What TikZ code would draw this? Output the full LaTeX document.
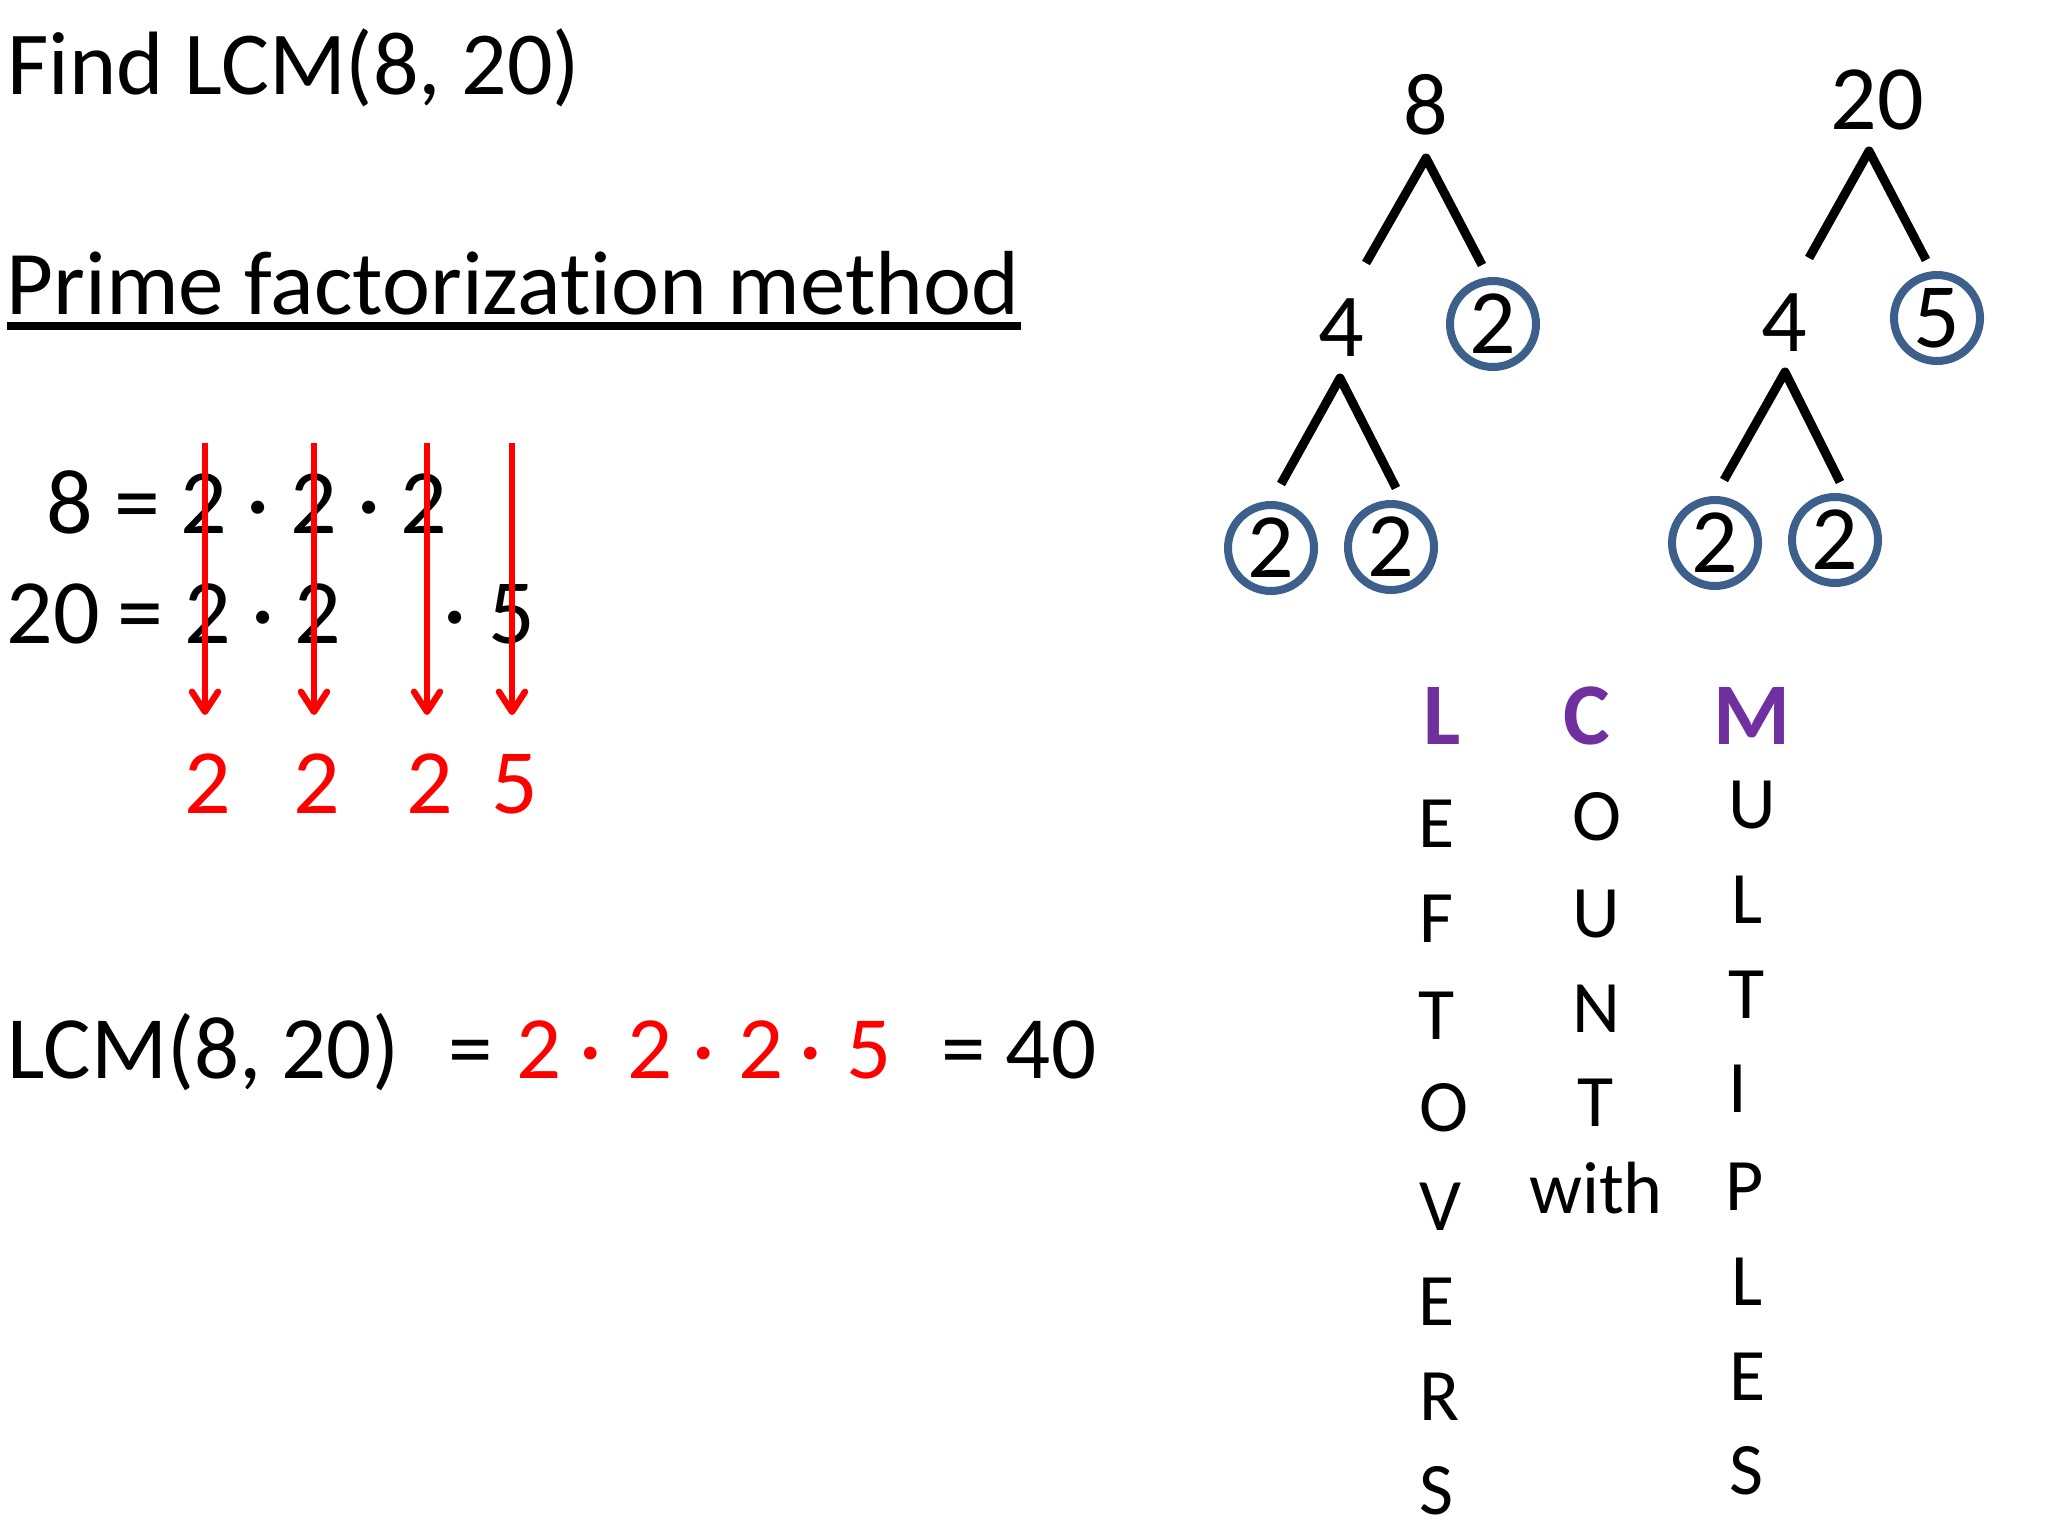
\documentclass[tikz,border=0pt]{standalone}
\usepackage{fontspec}
\setmainfont{Carlito}[Ligatures=NoCommon]
\usetikzlibrary{arrows.meta}
\definecolor{circblue}{RGB}{60,95,140}
\definecolor{lcmpurple}{RGB}{112,48,160}
\definecolor{pured}{RGB}{255,0,0}
\begin{document}
\begin{tikzpicture}[x=0.5pt,y=-0.5pt,
  txt/.style={inner sep=0pt, anchor=base},
  txtw/.style={inner sep=0pt, anchor=base west},
  fbig/.style={font=\fontsize{46}{50}\selectfont},
  ftitle/.style={font=\fontsize{45}{50}\selectfont},
  fmid/.style={font=\fontsize{44.5}{50}\selectfont},
  fmeth/.style={font=\fontsize{45.5}{50}\selectfont},
  flet/.style={font=\fontsize{37}{40}\selectfont},
  fhead/.style={font=\fontsize{44}{50}\selectfont\bfseries, text=lcmpurple},
  redtxt/.style={text=pured},
  circ/.style={circle, draw=circblue, line width=4pt, minimum size=43pt, inner sep=0pt, font=\fontsize{46}{50}\selectfont},
  branch/.style={line width=4.5pt, black, line join=round},
  downarrow/.style={draw=pured, line width=3.2pt, -{Straight Barb[length=10pt,width=13pt,round]}},
]
\useasboundingbox (0,0) rectangle (2048,1536);
\fill[white] (0,0) rectangle (2048,1536);

% titles
\node[txtw, ftitle] (title) at (7,95) {Find LCM(8, 20)};
\node[txtw, fmeth] (method) at (6,314) {Prime factorization method};
\coordinate (ulA) at (7,326);
\coordinate (ulB) at (1021,326);
\draw[line width=4pt] (ulA) -- (ulB);

% row 1
\node[txt, fbig] (r1a) at (70,533) {8};
\node[txt, fbig] (r1b) at (137,533) {=};
\node[txt, fbig] (r1c) at (204,533) {2};
\node[txt, fbig] (r1d) at (258,533) {·};
\node[txt, fbig] (r1e) at (314,533) {2};
\node[txt, fbig] (r1f) at (369,533) {·};
\node[txt, fbig] (r1g) at (424,533) {2};
% row 2
\node[txt, fbig] (r2a) at (53.5,643) {20};
\node[txt, fbig] (r2b) at (140,643) {=};
\node[txt, fbig] (r2c) at (208,643) {2};
\node[txt, fbig] (r2d) at (263,643) {·};
\node[txt, fbig] (r2e) at (318,643) {2};
\node[txt, fbig] (r2f) at (455,643) {·};
\node[txt, fbig] (r2g) at (512,643) {5};

% arrows
\coordinate (a1s) at (205,443); \coordinate (a1e) at (205,715);
\coordinate (a2s) at (314,443); \coordinate (a2e) at (314,715);
\coordinate (a3s) at (427,443); \coordinate (a3e) at (427,715);
\coordinate (a4s) at (512,443); \coordinate (a4e) at (512,715);
\draw[downarrow] (a1s) -- (a1e);
\draw[downarrow] (a2s) -- (a2e);
\draw[downarrow] (a3s) -- (a3e);
\draw[downarrow] (a4s) -- (a4e);

% red results
\node[txt, fbig, redtxt] (res1) at (208,813) {2};
\node[txt, fbig, redtxt] (res2) at (317,813) {2};
\node[txt, fbig, redtxt] (res3) at (430,813) {2};
\node[txt, fbig, redtxt] (res4) at (515,813) {5};

% LCM line
\node[txtw, fmid] (lcm) at (7,1078) {LCM(8, 20)};
\node[txt, fmid] (le1) at (471,1078) {=};
\node[txt, fmid, redtxt] (l1) at (539,1078) {2};
\node[txt, fmid, redtxt] (d1) at (591,1078) {·};
\node[txt, fmid, redtxt] (l2) at (650,1078) {2};
\node[txt, fmid, redtxt] (d2) at (704,1078) {·};
\node[txt, fmid, redtxt] (l3) at (761,1078) {2};
\node[txt, fmid, redtxt] (d3) at (811,1078) {·};
\node[txt, fmid, redtxt] (l4) at (869,1078) {5};
\node[txt, fmid] (le2) at (964,1078) {=};
\node[txt, fmid] (l40) at (1051,1078) {40};

% tree of 8
\node[txt, font=\fontsize{44}{50}\selectfont] (t8) at (1426,134) {8};
\coordinate (t8ap) at (1426,158);
\coordinate (t8l) at (1366,263);
\coordinate (t8r) at (1482,265);
\draw[branch] (t8l) -- (t8ap) -- (t8r);
\node[txt, ftitle] (t4a) at (1341,356) {4};
\node[circ] (c2a) at (1493,324) {2};
\coordinate (t4aap) at (1340,378);
\coordinate (t4al) at (1281,484);
\coordinate (t4ar) at (1396,488);
\draw[branch] (t4al) -- (t4aap) -- (t4ar);
\node[circ] (c2b) at (1271,548) {2};
\node[circ] (c2c) at (1391,547) {2};

% tree of 20
\node[txt, fbig] (t20) at (1877,129) {20};
\coordinate (t20ap) at (1869,151);
\coordinate (t20l) at (1809,258);
\coordinate (t20r) at (1926,260);
\draw[branch] (t20l) -- (t20ap) -- (t20r);
\node[txt, ftitle] (t4b) at (1784,351) {4};
\node[circ] (c5) at (1937,318) {5};
\coordinate (t4bap) at (1785,372);
\coordinate (t4bl) at (1724,480);
\coordinate (t4br) at (1840,482);
\draw[branch] (t4bl) -- (t4bap) -- (t4br);
\node[circ] (c2d) at (1715,543) {2};
\node[circ] (c2e) at (1835,540) {2};

% LCM acrostic
\node[txt, fhead] (hL) at (1442,744) {L};
\node[txt, fhead] (hC) at (1587,744) {C};
\node[txt, fhead] (hM) at (1752,744) {M};

\node[txt, flet] (lE1) at (1437,847) {E};
\node[txt, flet] (lF) at (1436,942) {F};
\node[txt, flet] (lT) at (1437,1039) {T};
\node[txt, flet] (lO) at (1444,1131) {O};
\node[txt, flet] (lV) at (1440,1230) {V};
\node[txt, flet] (lE2) at (1437,1325) {E};
\node[txt, flet] (lR) at (1440,1420) {R};
\node[txt, flet] (lS) at (1436,1514) {S};

\node[txt, flet] (cO) at (1597,840) {O};
\node[txt, flet] (cU) at (1596,937) {U};
\node[txt, flet] (cN) at (1596,1032) {N};
\node[txt, flet] (cT) at (1596,1126) {T};
\node[txt, flet] (cw) at (1596,1213) {with};

\node[txt, flet] (mU) at (1752,828) {U};
\node[txt, flet] (mL1) at (1747,923) {L};
\node[txt, flet] (mT) at (1747,1018) {T};
\node[txt, flet] (mI) at (1738,1112) {I};
\node[txt, flet] (mP) at (1745,1210) {P};
\node[txt, flet] (mL2) at (1747,1305) {L};
\node[txt, flet] (mE) at (1748,1400) {E};
\node[txt, flet] (mS) at (1746,1494) {S};
\end{tikzpicture}
\end{document}
